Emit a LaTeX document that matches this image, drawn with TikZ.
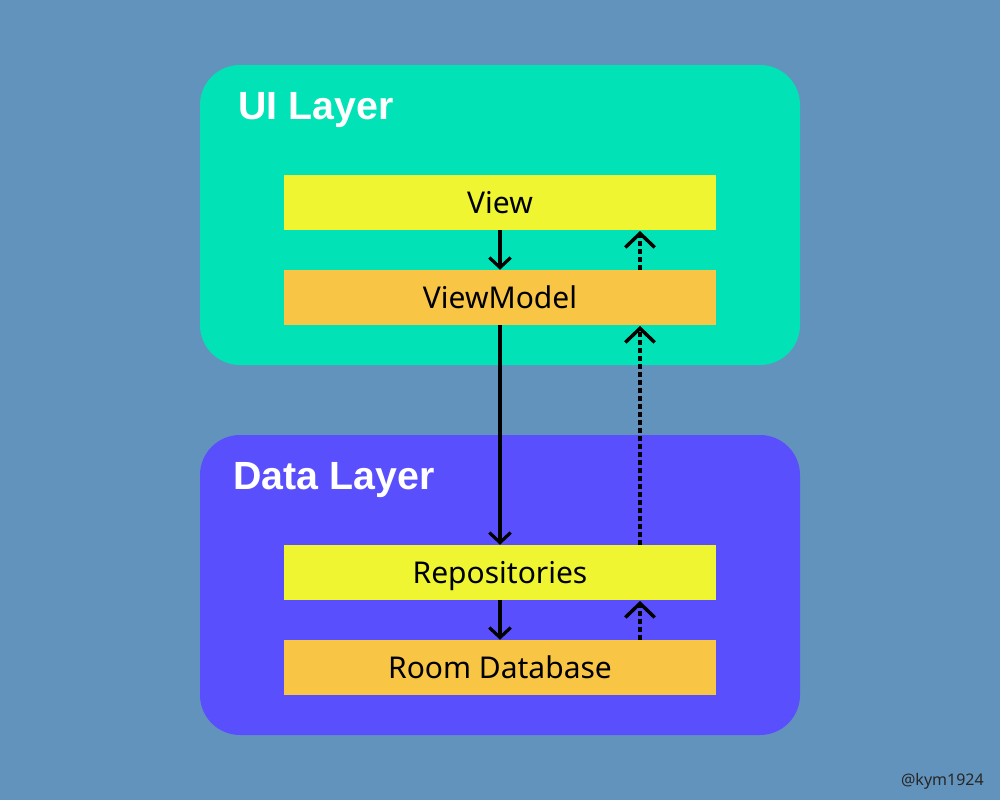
\documentclass[tikz,border=0pt]{standalone}
\usepackage{fontspec}
\setmainfont{Noto Sans}
\newfontfamily\titlefont{Liberation Sans}
\usetikzlibrary{arrows.meta}
\definecolor{bgc}{HTML}{6293BC}
\definecolor{uic}{HTML}{01E3B6}
\definecolor{datac}{HTML}{5A4FFD}
\definecolor{yel}{HTML}{F0F532}
\definecolor{org}{HTML}{F8C545}
\tikzset{
  layer/.style={fill=#1, draw=none, rounded corners=30pt},
  item/.style={fill=#1, draw=none, minimum width=324pt, minimum height=41.25pt, inner sep=0pt, text height=15.75pt, text depth=0pt, font=\fontsize{22.5}{26}\selectfont, text=black},
  title/.style={anchor=base west, inner sep=0pt, text=white, font=\titlefont\fontsize{29.5}{34}\selectfont\bfseries},
  solidarr/.style={line width=2.4pt, -{Straight Barb[length=7.5pt, width=16pt, line width=2.4pt]}},
  dotarr/.style={line width=2.8pt, dash pattern=on 3.5pt off 2.5pt, -{Straight Barb[length=10.5pt, width=22pt, line width=2.6pt]}}
}
\begin{document}
\begin{tikzpicture}[x=0.75pt, y=-0.75pt]
\fill[bgc] (0,0) rectangle (1000,800);
\useasboundingbox (0,0) rectangle (1000,800);
\fill[layer=uic] (200,65) rectangle (800,365);
\fill[layer=datac] (200,435) rectangle (800,735);
\node[title] (uit) at (238,119) {UI Layer};
\node[title] (dt) at (233,489) {Data Layer};
\node[item=yel] (view) at (500,202.5) {View};
\node[item=org] (vm) at (500,297.5) {ViewModel};
\node[item=yel] (repo) at (500,572.5) {Repositories};
\node[item=org] (room) at (500,667.5) {Room Database};
\coordinate (a1) at (640,270);
\coordinate (a2) at (640,231);
\coordinate (b1) at (640,545);
\coordinate (b2) at (640,326);
\coordinate (c1) at (640,640);
\coordinate (c2) at (640,601);
\draw[solidarr] (view.south) -- (vm.north);
\draw[solidarr] (vm.south) -- (repo.north);
\draw[solidarr] (repo.south) -- (room.north);
\draw[dotarr] (a1) -- (a2);
\draw[dotarr] (b1) -- (b2);
\draw[dotarr] (c1) -- (c2);
\node[anchor=base east, inner sep=0pt, font=\fontsize{12}{14}\selectfont, text=black!85] (wm) at (984,785) {@kym1924};
\end{tikzpicture}
\end{document}
